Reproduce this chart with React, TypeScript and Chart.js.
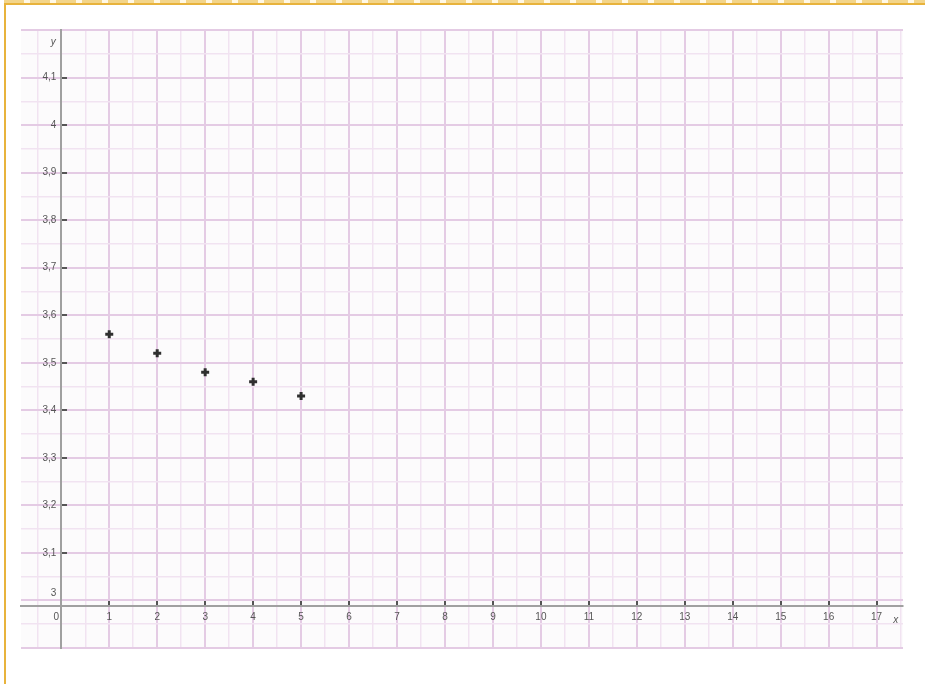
import React, { useEffect, useRef } from 'react';
import { Chart, registerables } from 'chart.js';

Chart.register(...registerables);

// ---- data ----
const xValues = [1, 2, 3, 4, 5];
const yValues = [3.56, 3.52, 3.48, 3.46, 3.43];

const xTickValues = [0, 1, 2, 3, 4, 5, 6, 7, 8, 9, 10, 11, 12, 13, 14, 15, 16, 17];
const xTickLabels = ['0', '1', '2', '3', '4', '5', '6', '7', '8', '9', '10', '11', '12', '13', '14', '15', '16', '17'];

const yTickValues = [3.015, 3.1, 3.2, 3.3, 3.4, 3.5, 3.6, 3.7, 3.8, 3.9, 4.0, 4.1];
const yTickLabels = ['3', '3,1', '3,2', '3,3', '3,4', '3,5', '3,6', '3,7', '3,8', '3,9', '4', '4,1'];

const X_MIN = -0.84;
const X_MAX = 17.55;
const Y_MIN = 2.9;
const Y_MAX = 4.2;
const X_AXIS_AT_Y = 2.988;
const Y_AXIS_AT_X = 0;
const X_GRID_STEP = 0.5;
const Y_GRID_STEP = 0.05;

const r3 = (v: number) => Math.round(v * 1000) / 1000;

function buildXTicks() {
  const set = new Set<number>();
  for (let k = Math.ceil(X_MIN / X_GRID_STEP); k * X_GRID_STEP <= X_MAX; k++) set.add(r3(k * X_GRID_STEP));
  xTickValues.forEach((v) => set.add(r3(v)));
  return Array.from(set).sort((a, b) => a - b);
}
function buildYTicks() {
  const set = new Set<number>();
  for (let k = Math.ceil(Y_MIN / Y_GRID_STEP - 1e-9); k * Y_GRID_STEP <= Y_MAX + 1e-9; k++) set.add(r3(k * Y_GRID_STEP));
  yTickValues.forEach((v) => set.add(r3(v)));
  return Array.from(set).sort((a, b) => a - b);
}

const MAJOR = '#e4cbe4';
const MINOR = '#f1e3f1';
const TICK = '#555555';
const CLEAR = 'rgba(0,0,0,0)';

const xLabelOf = (v: number) => {
  const i = xTickValues.findIndex((t) => Math.abs(t - v) < 1e-6);
  return i >= 0 ? xTickLabels[i] : '';
};
const yLabelOf = (v: number) => {
  const i = yTickValues.findIndex((t) => Math.abs(t - v) < 1e-6);
  return i >= 0 ? yTickLabels[i] : '';
};
const isXMajor = (v: number) => Math.abs(v - Math.round(v)) < 1e-6;
const isYMajor = (v: number) => Math.abs(v * 10 - Math.round(v * 10)) < 1e-6;
const isBreakTick = (v: number) => Math.abs(v - 3.015) < 1e-6;

const axisNamesPlugin = {
  id: 'axisNames',
  afterDraw(chart: any) {
    const { ctx, scales } = chart;
    const xs = scales.x;
    const ys = scales.y;
    const axisY = ys.getPixelForValue(X_AXIS_AT_Y);
    const axisX = xs.getPixelForValue(Y_AXIS_AT_X);
    ctx.save();
    ctx.fillStyle = '#555';
    ctx.font = 'italic 10px "Liberation Sans", Arial, sans-serif';
    ctx.textAlign = 'center';
    ctx.textBaseline = 'middle';
    ctx.fillText('x', xs.getPixelForValue(17.4), axisY + 14);
    ctx.fillText('y', axisX - 8, ys.getPixelForValue(4.175));
    ctx.restore();
  },
};

const bgPlugin = {
  id: 'bgFill',
  beforeDraw(chart: any) {
    const { ctx, chartArea } = chart;
    ctx.save();
    ctx.fillStyle = '#fcfbfc';
    ctx.fillRect(chartArea.left, chartArea.top, chartArea.right - chartArea.left, chartArea.bottom - chartArea.top);
    ctx.restore();
  },
};

export default function App() {
  const canvasRef = useRef<HTMLCanvasElement | null>(null);

  useEffect(() => {
    if (!canvasRef.current) return;
    const xt = buildXTicks();
    const yt = buildYTicks();
    const font = { family: '"Liberation Sans", Arial, sans-serif', size: 10 };

    const chart = new Chart(canvasRef.current, {
      type: 'scatter',
      data: {
        datasets: [
          {
            data: xValues.map((x, i) => ({ x, y: yValues[i] })),
            pointStyle: 'cross',
            pointRadius: 4,
            pointBorderWidth: 3,
            borderColor: '#2f2f2f',
            backgroundColor: '#2f2f2f',
            showLine: false,
          },
        ],
      },
      options: {
        animation: false,
        responsive: false,
        devicePixelRatio: 1,
        layout: { padding: { left: 21, right: 22, top: 30, bottom: 36 } },
        plugins: { legend: { display: false }, tooltip: { enabled: false } },
        scales: {
          x: {
            type: 'linear',
            position: { y: X_AXIS_AT_Y } as any,
            min: X_MIN,
            max: X_MAX,
            afterBuildTicks: (scale: any) => {
              scale.ticks = xt.map((v) => ({ value: v }));
            },
            ticks: {
              autoSkip: false,
              maxRotation: 0,
              padding: 12,
              color: '#555',
              font,
              callback: (v: any) => {
                const s = xLabelOf(Number(v));
                return Number(v) === Y_AXIS_AT_X && s ? s + '\u2002\u2002' : s;
              },
            },
            grid: {
              color: (c: any) => (c.tick && isXMajor(c.tick.value) ? MAJOR : MINOR),
              lineWidth: (c: any) => (c.tick && isXMajor(c.tick.value) ? 2 : 1.5),
              tickLength: -7,
              tickWidth: 2,
              tickColor: (c: any) => (c.tick && xLabelOf(c.tick.value) !== '' ? TICK : CLEAR),
            },
            border: { display: true, color: '#a0a0a0', width: 2 },
          },
          y: {
            type: 'linear',
            position: { x: Y_AXIS_AT_X } as any,
            min: Y_MIN,
            max: Y_MAX,
            afterBuildTicks: (scale: any) => {
              scale.ticks = yt.map((v) => ({ value: v }));
            },
            ticks: {
              autoSkip: false,
              padding: 4,
              color: '#555',
              font,
              callback: (v: any) => {
                const s = yLabelOf(Number(v));
                return s ? s + '\u2002' : '';
              },
            },
            grid: {
              color: (c: any) => {
                if (!c.tick) return MINOR;
                const v = c.tick.value;
                if (isBreakTick(v)) return CLEAR;
                return isYMajor(v) ? MAJOR : MINOR;
              },
              lineWidth: (c: any) => (c.tick && isYMajor(c.tick.value) ? 2 : 1.5),
              tickLength: -7,
              tickWidth: 2,
              tickColor: (c: any) => {
                if (!c.tick) return CLEAR;
                const v = c.tick.value;
                if (isBreakTick(v)) return CLEAR;
                return yLabelOf(v) !== '' ? TICK : CLEAR;
              },
            },
            border: { display: true, color: '#a0a0a0', width: 2 },
          },
        },
      },
      plugins: [bgPlugin, axisNamesPlugin],
    });
    return () => chart.destroy();
  }, []);

  return (
    <div style={{ position: 'absolute', left: 0, top: 0, width: 925, height: 684, background: '#fff', overflow: 'hidden' }}>
      <div
        style={{
          position: 'absolute',
          left: 4,
          top: 0,
          width: 921,
          height: 3,
          background: 'repeating-linear-gradient(90deg, #f3d58a 0px, #f3d58a 20px, #fff8e6 20px, #fff8e6 26px)',
        }}
      />
      <div
        style={{
          position: 'absolute',
          left: 4,
          top: 3,
          width: 921,
          height: 681,
          borderTop: '2.5px solid #e8b33c',
          borderLeft: '2.5px solid #e8b33c',
          boxSizing: 'border-box',
        }}
      />
      <canvas ref={canvasRef} width={925} height={684} style={{ position: 'absolute', left: 0, top: 0 }} />
    </div>
  );
}
